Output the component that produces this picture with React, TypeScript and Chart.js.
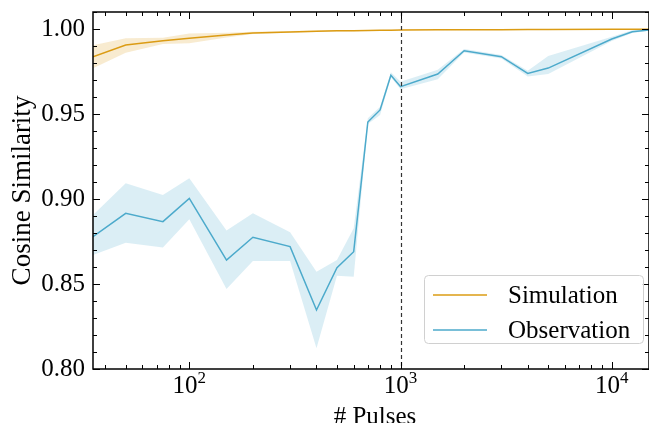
import React, { useEffect, useRef } from "react";
import { Chart, registerables } from "chart.js";

Chart.register(...registerables);

const pulses = [35, 50, 75, 100, 150, 200, 300, 400, 500, 600, 700, 800, 900, 1000, 1500, 2000, 3000, 4000, 5000, 10000, 12500, 15000];

const simMean = [0.9837, 0.9906, 0.9931, 0.9945, 0.9965, 0.9977, 0.9983, 0.9987, 0.9989, 0.999, 0.9991, 0.9992, 0.9993, 0.9994, 0.9995, 0.9996, 0.9996, 0.9997, 0.9997, 0.9998, 0.9998, 0.9998];
const simUpper = [0.9905, 0.9945, 0.9948, 0.9974, 0.9978, 0.9984, 0.9988, 0.9991, 0.9992, 0.9993, 0.9993, 0.9994, 0.9995, 0.9996, 0.9996, 0.9997, 0.9997, 0.9998, 0.9998, 0.9999, 0.9999, 0.9999];
const simLower = [0.9769, 0.9861, 0.9912, 0.9916, 0.995, 0.997, 0.9978, 0.9983, 0.9986, 0.9987, 0.9989, 0.999, 0.9991, 0.9992, 0.9993, 0.9994, 0.9995, 0.9996, 0.9996, 0.9997, 0.9997, 0.9997];

const obsMean = [0.8778, 0.8916, 0.8867, 0.9004, 0.8641, 0.8775, 0.872, 0.8347, 0.8596, 0.869, 0.9453, 0.9524, 0.9728, 0.9661, 0.9735, 0.9872, 0.9837, 0.9739, 0.977, 0.9941, 0.9984, 0.9994];
const obsUpper = [0.8906, 0.9092, 0.9024, 0.9122, 0.8814, 0.8916, 0.8804, 0.8572, 0.8641, 0.8828, 0.9475, 0.9543, 0.9745, 0.969, 0.976, 0.9882, 0.9847, 0.9755, 0.9841, 0.9955, 0.9992, 0.9999];
const obsLower = [0.867, 0.8743, 0.8714, 0.8881, 0.847, 0.8635, 0.8635, 0.8122, 0.8549, 0.8543, 0.9441, 0.9494, 0.9716, 0.9645, 0.9704, 0.9862, 0.9827, 0.972, 0.9735, 0.993, 0.9976, 0.9989];

const xTicks = [100, 1000, 10000];
const yTicks = [0.8, 0.85, 0.9, 0.95, 1.0];
const xMin = 35;
const xMax = 15000;
const yMin = 0.8;
const yMax = 1.01;
const thresholdX = 1000;
const xTitle = "# Pulses";
const yTitle = "Cosine Similarity";

const ORANGE = "#DB9C14";
const BLUE = "#4DAACB";
const ORANGE_FILL = "rgba(219,156,20,0.2)";
const BLUE_FILL = "rgba(77,170,203,0.2)";
const FONT = "'Liberation Serif', 'DejaVu Serif', serif";
const FS = 25;

const toPts = (ys: number[]) => pulses.map((x, i) => ({ x, y: ys[i] }));

const decorPlugin = {
  id: "decor",
  afterDatasetsDraw(chart: any) {
    const { ctx, chartArea: a, scales } = chart;
    const xs = scales.x;
    const ys = scales.y;
    ctx.save();
    // dashed vertical line
    const vx = Math.round(xs.getPixelForValue(thresholdX)) + 0.5;
    ctx.strokeStyle = "#333";
    ctx.lineWidth = 1.2;
    ctx.setLineDash([4, 3]);
    ctx.beginPath();
    ctx.moveTo(vx, a.top);
    ctx.lineTo(vx, a.bottom);
    ctx.stroke();
    ctx.setLineDash([]);

    // inward ticks
    ctx.strokeStyle = "#000";
    ctx.lineWidth = 1;
    const drawX = (v: number, len: number) => {
      const p = Math.round(xs.getPixelForValue(v)) + 0.5;
      if (p < a.left || p > a.right) return;
      ctx.beginPath();
      ctx.moveTo(p, a.bottom);
      ctx.lineTo(p, a.bottom - len);
      ctx.moveTo(p, a.top);
      ctx.lineTo(p, a.top + len);
      ctx.stroke();
    };
    for (let e = 1; e <= 4; e++) {
      for (let m = 1; m <= 9; m++) {
        drawX(m * Math.pow(10, e), m === 1 ? 7 : 4);
      }
    }
    const drawY = (v: number, len: number) => {
      const p = Math.round(ys.getPixelForValue(v)) + 0.5;
      ctx.beginPath();
      ctx.moveTo(a.left, p);
      ctx.lineTo(a.left + len, p);
      ctx.moveTo(a.right, p);
      ctx.lineTo(a.right - len, p);
      ctx.stroke();
    };
    for (let k = 80; k <= 101; k++) {
      drawY(k / 100, k % 5 === 0 ? 7 : 4);
    }

    // frame
    ctx.lineWidth = 1.5;
    ctx.strokeStyle = "#000";
    ctx.strokeRect(a.left, a.top, a.right - a.left, a.bottom - a.top);

    // x tick labels with superscripts
    ctx.fillStyle = "#000";
    ctx.textBaseline = "alphabetic";
    for (const v of xTicks) {
      const p = xs.getPixelForValue(v);
      const e = String(Math.round(Math.log10(v)));
      ctx.font = `${FS}px ${FONT}`;
      const wBase = ctx.measureText("10").width;
      ctx.font = `${Math.round(FS * 0.68)}px ${FONT}`;
      const wSup = ctx.measureText(e).width;
      const x0 = p - (wBase + wSup) / 2;
      ctx.font = `${FS}px ${FONT}`;
      ctx.textAlign = "left";
      ctx.fillText("10", x0, 393);
      ctx.font = `${Math.round(FS * 0.68)}px ${FONT}`;
      ctx.fillText(e, x0 + wBase, 383);
    }

    // axis titles
    ctx.font = `${FS}px ${FONT}`;
    ctx.textAlign = "center";
    ctx.fillText(xTitle, (a.left + a.right) / 2 + 4, 424);
    ctx.save();
    ctx.translate(30, (a.top + a.bottom) / 2);
    ctx.rotate(-Math.PI / 2);
    ctx.font = `27px ${FONT}`;
    ctx.fillText(yTitle, 0, 0);
    ctx.restore();

    // legend
    const lx = 424, ly = 275, lw = 219, lh = 68;
    ctx.fillStyle = "rgba(255,255,255,0.85)";
    ctx.strokeStyle = "#d0d0d0";
    ctx.lineWidth = 1;
    ctx.beginPath();
    (ctx as any).roundRect(lx + 0.5, ly + 0.5, lw, lh, 4);
    ctx.fill();
    ctx.stroke();
    const rows = [
      { label: "Simulation", color: ORANGE, y: 295 },
      { label: "Observation", color: BLUE, y: 330 },
    ];
    ctx.font = `${FS}px ${FONT}`;
    ctx.textBaseline = "middle";
    ctx.textAlign = "left";
    for (const r of rows) {
      ctx.strokeStyle = r.color;
      ctx.lineWidth = 1.5;
      ctx.beginPath();
      ctx.moveTo(433, r.y);
      ctx.lineTo(487, r.y);
      ctx.stroke();
      ctx.fillStyle = "#000";
      ctx.fillText(r.label, 508, r.y + 1);
    }
    ctx.restore();
  },
};

export default function App() {
  const ref = useRef<HTMLCanvasElement | null>(null);
  useEffect(() => {
    if (!ref.current) return;
    const chart = new Chart(ref.current, {
      type: "line",
      data: {
        datasets: [
          { label: "simLower", data: toPts(simLower), borderWidth: 0, pointRadius: 0, fill: false, borderColor: "transparent" },
          { label: "simUpper", data: toPts(simUpper), borderWidth: 0, pointRadius: 0, fill: "-1", backgroundColor: ORANGE_FILL, borderColor: "transparent" },
          { label: "obsLower", data: toPts(obsLower), borderWidth: 0, pointRadius: 0, fill: false, borderColor: "transparent" },
          { label: "obsUpper", data: toPts(obsUpper), borderWidth: 0, pointRadius: 0, fill: "-1", backgroundColor: BLUE_FILL, borderColor: "transparent" },
          { label: "Simulation", data: toPts(simMean), borderColor: ORANGE, borderWidth: 1.5, pointRadius: 0, fill: false },
          { label: "Observation", data: toPts(obsMean), borderColor: BLUE, borderWidth: 1.5, pointRadius: 0, fill: false },
        ],
      },
      options: {
        responsive: false,
        animation: false,
        layout: { padding: { top: 12, right: 0, left: 0, bottom: 0 } },
        plugins: { legend: { display: false }, tooltip: { enabled: false } },
        scales: {
          x: {
            type: "logarithmic",
            min: xMin,
            max: xMax,
            grid: { display: false, drawTicks: false },
            border: { display: false },
            afterBuildTicks: (s: any) => {
              s.ticks = xTicks.map((v) => ({ value: v }));
            },
            afterFit: (s: any) => {
              s.height = 54;
              s.paddingLeft = 0;
              s.paddingRight = 0;
            },
            ticks: { display: false },
          },
          y: {
            min: yMin,
            max: yMax,
            grid: { display: false, drawTicks: false },
            border: { display: false },
            afterBuildTicks: (s: any) => {
              s.ticks = yTicks.map((v) => ({ value: v }));
            },
            afterFit: (s: any) => {
              s.width = 93;
              s.paddingTop = 0;
              s.paddingBottom = 0;
            },
            ticks: {
              padding: 8,
              color: "#000",
              font: { family: FONT, size: FS },
              callback: (v: any) => Number(v).toFixed(2),
            },
          },
        },
      },
      plugins: [decorPlugin],
    } as any);
    return () => chart.destroy();
  }, []);
  return (
    <div style={{ position: "fixed", left: 0, top: 0, width: 649, height: 423, background: "#fff" }}>
      <canvas ref={ref} width={649} height={423} style={{ display: "block" }} />
    </div>
  );
}
